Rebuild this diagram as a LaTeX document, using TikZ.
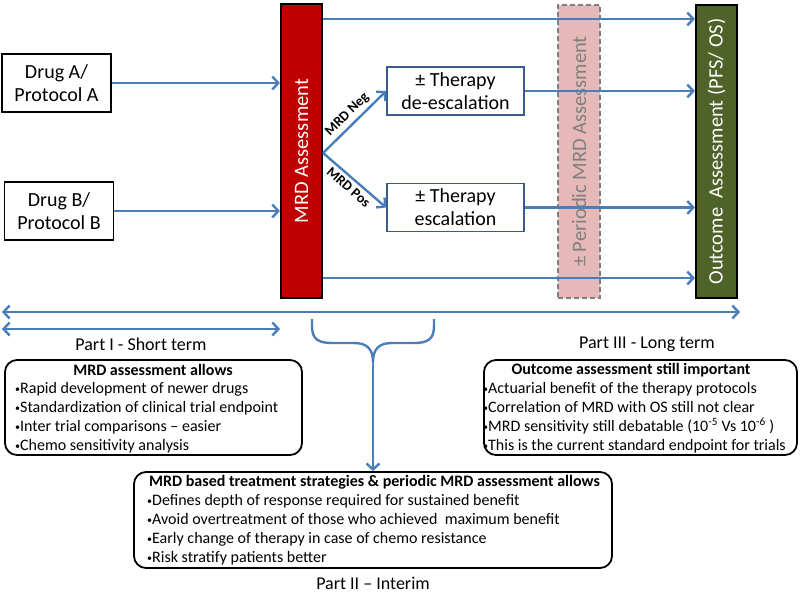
\documentclass[tikz,border=0pt]{standalone}
\usepackage{fontspec}
\setmainfont{Carlito}
\usetikzlibrary{arrows.meta,calc}
\definecolor{arrowblue}{HTML}{4A7EBB}
\definecolor{boxblue}{HTML}{385D8A}
\definecolor{mrdred}{HTML}{C00000}
\definecolor{olivebar}{HTML}{4F6228}
\definecolor{pinkfill}{HTML}{E6B9B8}
\definecolor{dashgray}{HTML}{7F7F7F}
\newcommand{\bul}{\raisebox{1.5pt}{\fontsize{10}{10}\selectfont\textbullet}}
\begin{document}
\begin{tikzpicture}[x=1pt,y=-1pt,
  arr/.style={draw=arrowblue, line width=2.4pt, -{Straight Barb[length=6pt,width=13pt]}},
  dblarr/.style={draw=arrowblue, line width=2.4pt, {Straight Barb[length=6pt,width=13pt]}-{Straight Barb[length=6pt,width=13pt]}},
  bluel/.style={draw=arrowblue, line width=2.4pt},
  drugbox/.style={draw=black, line width=1.8pt, fill=white, minimum width=109, minimum height=58, inner sep=0,
    font=\fontsize{20}{23}\selectfont, align=center},
  therbox/.style={draw=boxblue, line width=1.7pt, fill=white, minimum width=137, minimum height=48, inner sep=0,
    font=\fontsize{20}{23}\selectfont, align=center},
  barbox/.style={draw=black, line width=2.2pt, minimum width=41, minimum height=294, inner sep=0},
  bartext/.style={rotate=90, font=\fontsize{20.5}{24}\selectfont, inner sep=0},
  infobox/.style={draw=black, line width=1.8pt, rounded corners=12pt, inner sep=0},
  hdr/.style={font=\fontsize{16}{19}\selectfont\bfseries, inner sep=0},
  bullets/.style={font=\fontsize{16}{19}\selectfont, align=left, inner sep=0},
  partlbl/.style={font=\fontsize{18}{21}\selectfont, inner sep=0},
  branchlbl/.style={font=\fontsize{14}{16}\selectfont\bfseries, sloped, inner sep=3.5pt}
]
\useasboundingbox (0,0) rectangle (800,597);

% helper coordinates
\coordinate (ytop) at (0,19);
\coordinate (ybr) at (0,153);
\coordinate (ybot) at (0,278);

% left boxes
\node[drugbox] (drugA) at (56.5,83) {Drug A/\\Protocol A};
\node[drugbox] (drugB) at (59,211) {Drug B/\\Protocol B};

% bars
\node[barbox, fill=mrdred] (mrd) at (301.5,151) {};
\node[bartext, text=white] (mrdtxt) at (mrd.center) {MRD Assessment};

\node[draw=dashgray, line width=1.6pt, dash pattern=on 5pt off 3pt, fill=pinkfill,
      minimum width=42, minimum height=293, inner sep=0] (per) at (579,151.5) {};
\node[bartext, text=dashgray] (pertxt) at (per.center) {± Periodic MRD Assessment};

\node[barbox, fill=olivebar, minimum height=293] (out) at (716.5,151.5) {};
\node[bartext, text=white] (outtxt) at (out.center) {Outcome\ \ Assessment (PFS/ OS)};

% therapy boxes
\node[therbox] (deesc) at (455.5,91) {± Therapy\\de-escalation};
\node[therbox] (esc) at (455.5,207.5) {± Therapy\\escalation};

% arrows
\draw[arr] (drugA.east) -- (drugA.east -| mrd.west);
\draw[arr] (drugB.east) -- (drugB.east -| mrd.west);
\coordinate (br) at (mrd.east |- ybr);
\draw[arr] (br) -- node[branchlbl, above, pos=0.5] {MRD Neg} (deesc.west);
\draw[arr] (br) -- node[branchlbl, below, pos=0.5] {MRD Pos} (esc.west);
\draw[arr] (mrd.east |- ytop) -- (out.west |- ytop);
\draw[arr] (mrd.east |- ybot) -- (out.west |- ybot);
\draw[arr] (deesc.east) -- (deesc.east -| out.west);
\draw[arr] (esc.east) -- (esc.east -| out.west);

% timeline arrows
\coordinate (tlL) at (2,312);
\coordinate (tlR) at (740,312);
\draw[dblarr] (tlL) -- (tlR);
\coordinate (p1L) at (2,329);
\coordinate (p1R) at (280,329);
\draw[dblarr] (p1L) -- (p1R);

\node[partlbl] (part1) at (141,344) {Part I - Short term};
\node[partlbl] (part3) at (647,344) {Part III - Long term};

% brace
\coordinate (stem) at (373,362);
\draw[bluel] (312,319) -- (312,326) .. controls (312,339) and (318,343) .. (332,343) -- (354,343)
  .. controls (367,343) and (373,349) .. (stem)
  .. controls (373,349) and (379,343) .. (392,343) -- (414,343)
  .. controls (428,343) and (434,339) .. (434,326) -- (434,319);

% info boxes
\node[infobox, minimum width=297, minimum height=95] (box1) at (153.5,407.5) {};
\node[hdr] (h1) at (153,370) {MRD assessment allows};
\node[bullets, anchor=west] (b1) at (15,418) {\bul Rapid development of newer drugs\\
  \bul Standardization of clinical trial endpoint\\
  \bul Inter trial comparisons -- easier\\
  \bul Chemo sensitivity analysis};

\node[infobox, minimum width=313, minimum height=95] (box3) at (640.5,407.5) {};
\node[hdr] (h3) at (631,370) {Outcome assessment still important};
\node[bullets, anchor=west] (b3) at (483,418) {\bul Actuarial benefit of the therapy protocols\\
  \bul Correlation of MRD with OS still not clear\\
  \bul MRD sensitivity still debatable (10\textsuperscript{-5} Vs 10\textsuperscript{-6} )\\
  \bul This is the current standard endpoint for trials};

\node[infobox, minimum width=478, minimum height=96] (box2) at (373,520) {};
\node[hdr, anchor=west] (h2) at (149,482) {MRD based treatment strategies \& periodic MRD assessment allows};
\node[bullets, anchor=west] (b2) at (147,530) {\bul Defines depth of response required for sustained benefit\\
  \bul Avoid overtreatment of those who achieved\ \ maximum benefit\\
  \bul Early change of therapy in case of chemo resistance\\
  \bul Risk stratify patients better};
\node[partlbl] (part2) at (373,583) {Part II -- Interim};

\draw[arr] (stem) -- (box2.north);
\end{tikzpicture}
\end{document}
